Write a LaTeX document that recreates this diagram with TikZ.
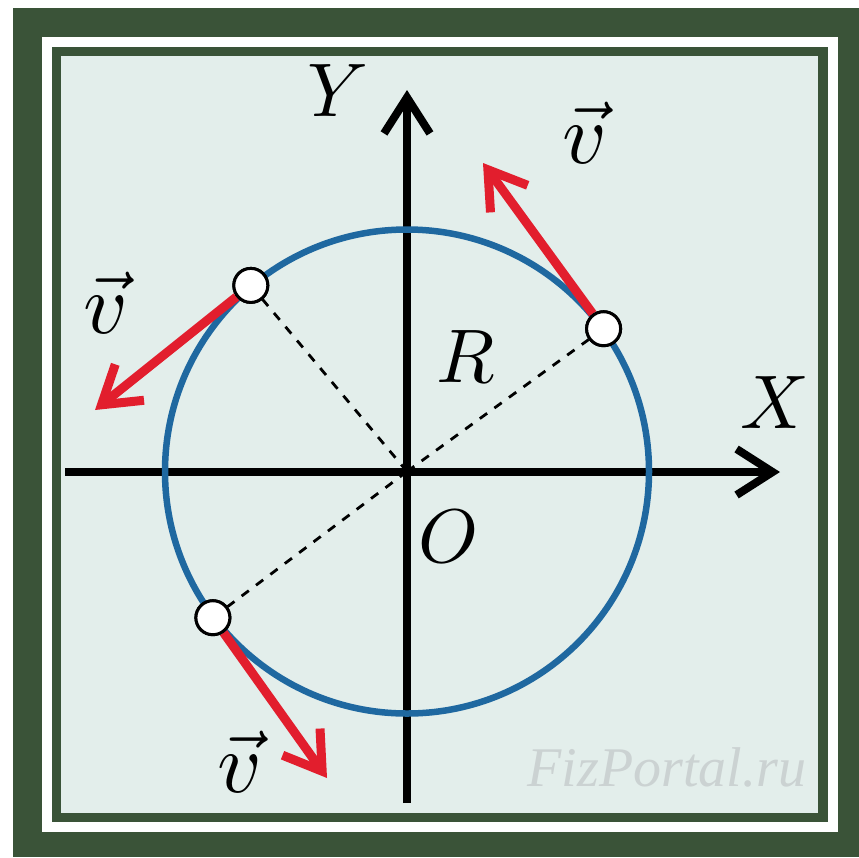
\documentclass[tikz,border=0pt]{standalone}
\usepackage{graphicx}
\usepackage{fontspec}
\usetikzlibrary{arrows.meta}
\newfontfamily\wmfont{Liberation Serif}
\definecolor{framegreen}{RGB}{58,83,56}
\definecolor{bgc}{RGB}{227,238,235}
\definecolor{circblue}{RGB}{31,104,160}
\definecolor{vred}{RGB}{226,30,45}
\definecolor{wmgray}{RGB}{203,210,210}
\newcommand{\biglab}[1]{\scalebox{7.6}{$#1$}}
\newcommand{\vlabel}{\scalebox{8.6}{$\vec{v}$}}
\tikzset{
  axis/.style={line width=8pt, -{Straight Barb[length=36pt, width=46pt]}},
  velo/.style={vred, line width=9pt, -{Straight Barb[length=36pt, width=46pt]}},
  radius line/.style={line width=2.8pt, dash pattern=on 9pt off 9pt},
  pt/.style={circle, draw=black, line width=3pt, fill=white, minimum size=34pt, inner sep=0pt},
  big/.style={inner sep=0pt},
  vlab/.style={inner sep=0pt},
}
\begin{document}
\begin{tikzpicture}[x=1pt, y=-1pt]
\useasboundingbox (0,0) rectangle (859,857);
\fill[white] (0,0) rectangle (859,857);
\fill[framegreen] (13,8) rectangle (859,857);
\fill[white] (42,37) rectangle (838,832);
\fill[framegreen] (52,47) rectangle (828,822);
\fill[bgc] (61,56) rectangle (818,813);
% watermark
\node[text=wmgray, font=\wmfont\itshape\fontsize{56}{60}\selectfont, inner sep=0pt] (wm) at (667,767) {FizPortal.ru};
% axes
\coordinate (O) at (407,471.5);
\coordinate (xs) at (65,472);
\coordinate (xe) at (780,472);
\coordinate (ys) at (407,803);
\coordinate (ye) at (407,90);
\draw[axis] (xs) -- (xe);
\draw[axis] (ys) -- (ye);
% circle
\draw[circblue, line width=6.5pt] (O) circle[radius=242];
% points
\node[pt] (A) at (603.6,328.7) {};
\node[pt] (B) at (250.8,285.4) {};
\node[pt] (C) at (212.9,617.7) {};
% radius lines
\draw[radius line] (O) -- (A);
\draw[radius line] (O) -- (B);
\draw[radius line] (O) -- (C);
% velocity arrows
\coordinate (Atip) at (483,163);
\coordinate (Btip) at (95,410);
\coordinate (Ctip) at (327,778);
\draw[velo] (A) -- (Atip);
\draw[velo] (B) -- (Btip);
\draw[velo] (C) -- (Ctip);
% redraw points on top
\node[pt] at (A) {};
\node[pt] at (B) {};
\node[pt] at (C) {};
% labels
\node[big] (lY) at (338,91) {\biglab{Y}};
\node[big] (lX) at (775,403) {\biglab{X}};
\node[big] (lR) at (466,357) {\biglab{R}};
\node[big] (lO) at (449,537) {\biglab{O}};
\node[vlab] (vA) at (585,133) {\vlabel};
\node[vlab] (vB) at (106,303) {\vlabel};
\node[vlab] (vC) at (240,762) {\vlabel};
\end{tikzpicture}
\end{document}
